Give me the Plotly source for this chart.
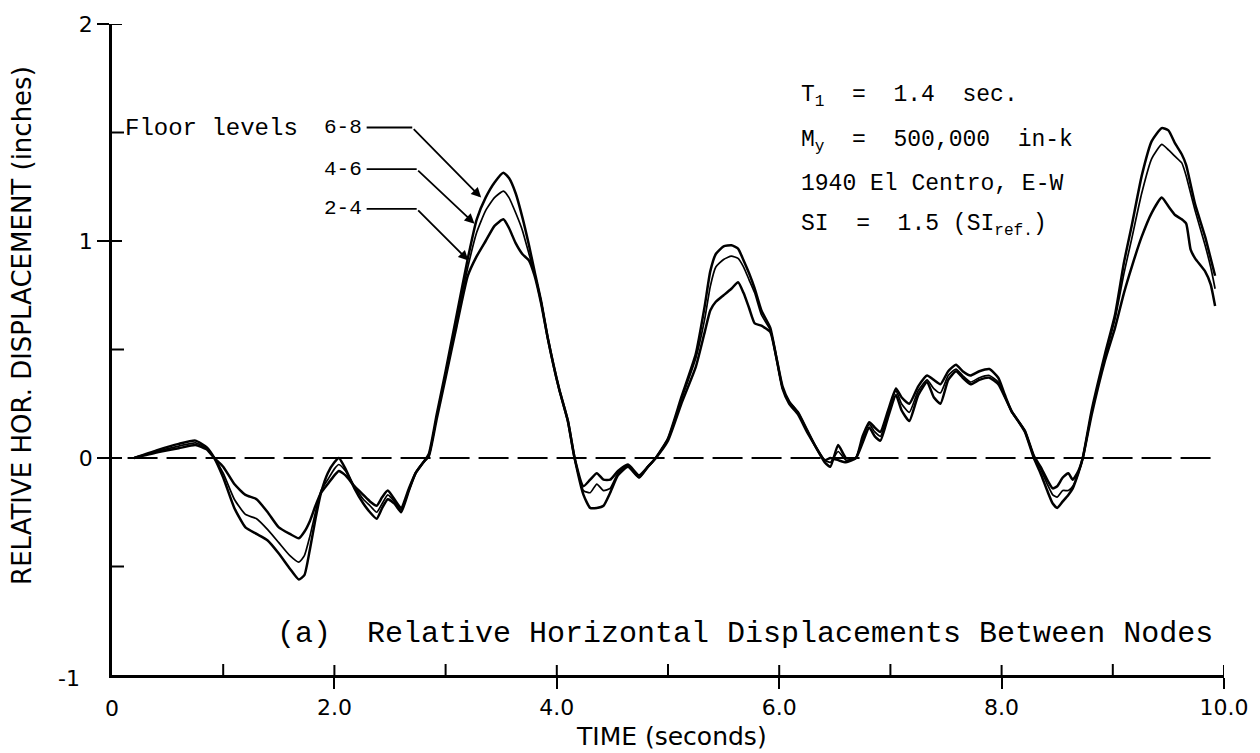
import plotly.graph_objects as go

# Time history of relative horizontal displacement between nodes (inches)
TIME = [
    0.20, 0.40, 0.60, 0.75, 0.85, 0.92, 1.00, 1.10, 1.20, 1.30,
    1.40, 1.50, 1.60, 1.68, 1.73, 1.78, 1.83, 1.88, 1.94, 2.00,
    2.04, 2.10, 2.18, 2.26, 2.32, 2.38, 2.43, 2.48, 2.54, 2.60,
    2.67, 2.73, 2.80, 2.85, 2.92, 3.00, 3.10, 3.20, 3.28, 3.36,
    3.44, 3.52, 3.57, 3.63, 3.69, 3.75, 3.80, 3.86, 3.92, 4.02,
    4.10, 4.16, 4.24, 4.30, 4.36, 4.42, 4.48, 4.55, 4.64, 4.74,
    4.82, 4.89, 5.00, 5.12, 5.25, 5.33, 5.38, 5.43, 5.50, 5.57,
    5.63, 5.68, 5.73, 5.78, 5.84, 5.92, 5.97, 6.03, 6.09, 6.17,
    6.25, 6.33, 6.41, 6.46, 6.53, 6.60, 6.69, 6.75, 6.81, 6.86,
    6.91, 6.98, 7.05, 7.10, 7.17, 7.25, 7.33, 7.39, 7.45, 7.52,
    7.59, 7.65, 7.72, 7.80, 7.89, 7.97, 8.03, 8.09, 8.15, 8.21,
    8.29, 8.35, 8.41, 8.46, 8.50, 8.55, 8.60, 8.64, 8.69, 8.73,
    8.81, 8.93, 9.02, 9.10, 9.17, 9.26, 9.35, 9.44, 9.50, 9.56,
    9.62, 9.66, 9.70, 9.74, 9.83, 9.88, 9.92,
]

DISP_6_8 = [
    0.00, 0.035, 0.065, 0.08, 0.05, 0.00, -0.09, -0.23, -0.32, -0.35,
    -0.38, -0.44, -0.51, -0.56, -0.54, -0.42, -0.28, -0.16, -0.07, -0.02,
    0.00, -0.05, -0.14, -0.21, -0.25, -0.28, -0.23, -0.19, -0.21, -0.25,
    -0.15, -0.07, -0.02, 0.02, 0.20, 0.40, 0.66, 0.92, 1.10, 1.20,
    1.27, 1.315, 1.29, 1.22, 1.11, 0.98, 0.86, 0.72, 0.55, 0.32,
    0.17, 0.00, -0.17, -0.23, -0.23, -0.22, -0.16, -0.08, -0.04, -0.09,
    -0.04, 0.00, 0.09, 0.28, 0.48, 0.70, 0.86, 0.94, 0.975, 0.98,
    0.965, 0.91, 0.85, 0.78, 0.68, 0.60, 0.475, 0.32, 0.25, 0.20,
    0.12, 0.05, -0.02, -0.04, 0.06, 0.00, 0.00, 0.10, 0.165, 0.14,
    0.12, 0.22, 0.32, 0.28, 0.25, 0.33, 0.38, 0.36, 0.34, 0.40,
    0.43, 0.40, 0.38, 0.40, 0.41, 0.37, 0.29, 0.215, 0.17, 0.12,
    0.00, -0.07, -0.15, -0.21, -0.23, -0.20, -0.17, -0.14, -0.07, 0.00,
    0.22, 0.48, 0.66, 0.90, 1.07, 1.30, 1.46, 1.52, 1.51, 1.45,
    1.40, 1.35, 1.26, 1.17, 1.02, 0.92, 0.84,
]

DISP_4_6 = [
    0.00, 0.03, 0.055, 0.07, 0.045, 0.00, -0.07, -0.19, -0.26, -0.28,
    -0.33, -0.39, -0.45, -0.48, -0.45, -0.36, -0.25, -0.15, -0.10, -0.05,
    -0.03, -0.06, -0.13, -0.19, -0.22, -0.25, -0.21, -0.17, -0.20, -0.24,
    -0.15, -0.07, -0.02, 0.01, 0.19, 0.39, 0.64, 0.88, 1.04, 1.14,
    1.20, 1.23, 1.20, 1.13, 1.05, 0.94, 0.85, 0.72, 0.55, 0.32,
    0.17, 0.00, -0.15, -0.16, -0.12, -0.15, -0.14, -0.07, -0.035, -0.09,
    -0.04, 0.00, 0.09, 0.27, 0.46, 0.64, 0.79, 0.88, 0.915, 0.93,
    0.92, 0.88, 0.82, 0.76, 0.66, 0.59, 0.475, 0.32, 0.26, 0.21,
    0.13, 0.05, -0.01, -0.02, 0.03, -0.01, 0.00, 0.09, 0.155, 0.12,
    0.10, 0.21, 0.31, 0.25, 0.21, 0.31, 0.36, 0.32, 0.30, 0.38,
    0.41, 0.38, 0.35, 0.37, 0.38, 0.35, 0.28, 0.215, 0.17, 0.125,
    0.01, -0.05, -0.12, -0.17, -0.18, -0.15, -0.15, -0.13, -0.07, 0.00,
    0.21, 0.47, 0.64, 0.85, 1.01, 1.22, 1.38, 1.445, 1.42, 1.39,
    1.36, 1.30, 1.22, 1.14, 0.98, 0.88, 0.78,
]

DISP_2_4 = [
    0.00, 0.025, 0.045, 0.06, 0.04, 0.00, -0.04, -0.12, -0.17, -0.19,
    -0.25, -0.32, -0.35, -0.37, -0.34, -0.29, -0.22, -0.16, -0.12, -0.08,
    -0.06, -0.08, -0.13, -0.17, -0.20, -0.22, -0.18, -0.15, -0.19, -0.23,
    -0.14, -0.07, -0.02, 0.01, 0.18, 0.37, 0.61, 0.84, 0.93, 1.00,
    1.07, 1.10, 1.06, 0.99, 0.94, 0.91, 0.84, 0.71, 0.55, 0.32,
    0.17, 0.00, -0.13, -0.10, -0.07, -0.10, -0.10, -0.06, -0.03, -0.08,
    -0.04, 0.00, 0.08, 0.25, 0.42, 0.58, 0.68, 0.72, 0.75, 0.78,
    0.81, 0.76, 0.69, 0.62, 0.61, 0.58, 0.475, 0.33, 0.26, 0.21,
    0.13, 0.05, -0.01, 0.00, -0.01, -0.02, 0.00, 0.07, 0.14, 0.10,
    0.08, 0.19, 0.29, 0.22, 0.17, 0.29, 0.35, 0.28, 0.25, 0.36,
    0.40, 0.37, 0.34, 0.36, 0.37, 0.34, 0.28, 0.215, 0.17, 0.125,
    0.01, -0.04, -0.10, -0.14, -0.13, -0.09, -0.07, -0.10, -0.06, 0.00,
    0.20, 0.45, 0.60, 0.76, 0.88, 1.02, 1.13, 1.20, 1.16, 1.12,
    1.10, 1.08, 0.96, 0.92, 0.86, 0.80, 0.70,
]

LEVELS = ["6-8", "4-6", "2-4"]
X_TICKS = [2, 4, 6, 8, 10]
X_TICK_TEXT = ["2.0", "4.0", "6.0", "8.0", "10.0"]
X_MINOR = [1, 3, 5, 7, 9]
Y_TICKS = [0, 1, 2]
Y_TICK_TEXT = ["0", "1", "2"]
Y_MINOR = [-0.5, 0.5, 1.5]
ZERO_SPAN = [0.14, 9.9]

MONO = "Courier New, Liberation Mono, monospace"
SANS = "DejaVu Sans, Verdana, sans-serif"
INK = "black"

fig = go.Figure()

# zero reference line (long dashes)
fig.add_trace(go.Scatter(
    x=ZERO_SPAN, y=[0, 0], mode="lines",
    line=dict(color=INK, width=2, dash="30px,9px"),
    hoverinfo="skip", showlegend=False,
))

series = [(DISP_6_8, 2.5), (DISP_4_6, 1.7), (DISP_2_4, 2.5)]
for (vals, w), name in zip(series, LEVELS):
    fig.add_trace(go.Scatter(
        x=TIME, y=vals, mode="lines", name=name,
        line=dict(color=INK, width=w, shape="spline", smoothing=0.5),
        showlegend=False,
    ))

axis_common = dict(showgrid=False, zeroline=False, color=INK,
                   showline=True, linewidth=2.5, linecolor=INK,
                   ticks="outside", tickwidth=2, tickcolor=INK,
                   tickfont=dict(family=SANS, size=22, color=INK))
fig.update_layout(
    width=1260, height=753,
    margin=dict(l=112, r=34, t=17, b=78),
    paper_bgcolor="white", plot_bgcolor="white",
    xaxis=dict(**axis_common, range=[0, 10], tickmode="array",
               tickvals=X_TICKS, ticktext=X_TICK_TEXT, ticklen=11,
               ticklabelstandoff=0),
    yaxis=dict(**axis_common, range=[-1, 2], tickmode="array",
               tickvals=Y_TICKS, ticktext=Y_TICK_TEXT, ticklen=12,
               ticklabelstandoff=0),
)

# inner halves of the crossing major ticks, and the inward minor ticks
shapes = []
tick_line = dict(color=INK, width=2)
for v, n in [(v, 10) for v in X_TICKS] + [(v, 11) for v in X_MINOR]:
    shapes.append(dict(type="line", xref="x", yref="y", x0=v, x1=v,
                       ysizemode="pixel", yanchor=-1, y0=0, y1=n,
                       line=tick_line))
for v, n in [(v, 10) for v in Y_TICKS] + [(v, 12) for v in Y_MINOR]:
    shapes.append(dict(type="line", xref="x", yref="y", y0=v, y1=v,
                       xsizemode="pixel", xanchor=0, x0=0, x1=n,
                       line=tick_line))

ann = []
# labels at the axis corner
ann.append(dict(x=0, y=-1, xref="x", yref="y", text="0", showarrow=False,
                yanchor="middle", yshift=-33,
                font=dict(family=SANS, size=22, color=INK)))
ann.append(dict(x=0, y=-1, xref="x", yref="y", text="-1", showarrow=False,
                xanchor="right", yanchor="middle", xshift=-30, yshift=-3,
                font=dict(family=SANS, size=22, color=INK)))

# axis titles
ann.append(dict(x=0.5027, y=-0.0942, xref="paper", yref="paper",
                xanchor="center", yanchor="middle",
                text="TIME (seconds)", showarrow=False,
                font=dict(family=SANS, size=25, color=INK)))
ann.append(dict(x=-0.0808, y=0.5365, xref="paper", yref="paper",
                xanchor="center", yanchor="middle",
                text="RELATIVE HOR. DISPLACEMENT (inches)", textangle=-90,
                showarrow=False, font=dict(family=SANS, size=26, color=INK)))

# floor-level key with leader arrows
ann.append(dict(x=0.10, y=1.52, xref="x", yref="y", text="Floor levels",
                showarrow=False, xanchor="left",
                font=dict(family=MONO, size=24, color=INK)))
label_y = [1.523, 1.331, 1.148]
bend_x = [2.70, 2.74, 2.74]
tips = [(3.32, 1.20), (3.26, 1.08), (3.205, 0.91)]
for name, ly, bx, (tx, ty) in zip(LEVELS, label_y, bend_x, tips):
    ann.append(dict(x=2.27, y=ly, xref="x", yref="y", text=name,
                    showarrow=False, xanchor="right",
                    font=dict(family=MONO, size=21, color=INK)))
    shapes.append(dict(type="line", xref="x", yref="y", x0=2.29, x1=bx,
                       y0=ly, y1=ly, line=dict(color=INK, width=1.8)))
    ann.append(dict(x=tx, y=ty, xref="x", yref="y", ax=bx, ay=ly,
                    axref="x", ayref="y", text="", showarrow=True,
                    arrowhead=2, arrowsize=1.1, arrowwidth=1.8,
                    arrowcolor=INK))

# run parameters
params = [
    ("T<sub>1</sub>  =  1.4  sec.", 1.664),
    ("M<sub>y</sub>  =  500,000  in-k", 1.459),
    ("1940 El Centro, E-W", 1.262),
    ("SI  =  1.5 (SI<sub>ref.</sub>)", 1.070),
]
for txt, yy in params:
    ann.append(dict(x=6.18, y=yy, xref="x", yref="y", text=txt,
                    showarrow=False, xanchor="left", yanchor="middle",
                    font=dict(family=MONO, size=23, color=INK)))

# panel caption
ann.append(dict(x=1.47, y=-0.81, xref="x", yref="y",
                text="(a)  Relative Horizontal Displacements Between Nodes",
                showarrow=False, xanchor="left",
                font=dict(family=MONO, size=30, color=INK)))

fig.update_layout(annotations=ann, shapes=shapes)
fig.write_html("out.html")
